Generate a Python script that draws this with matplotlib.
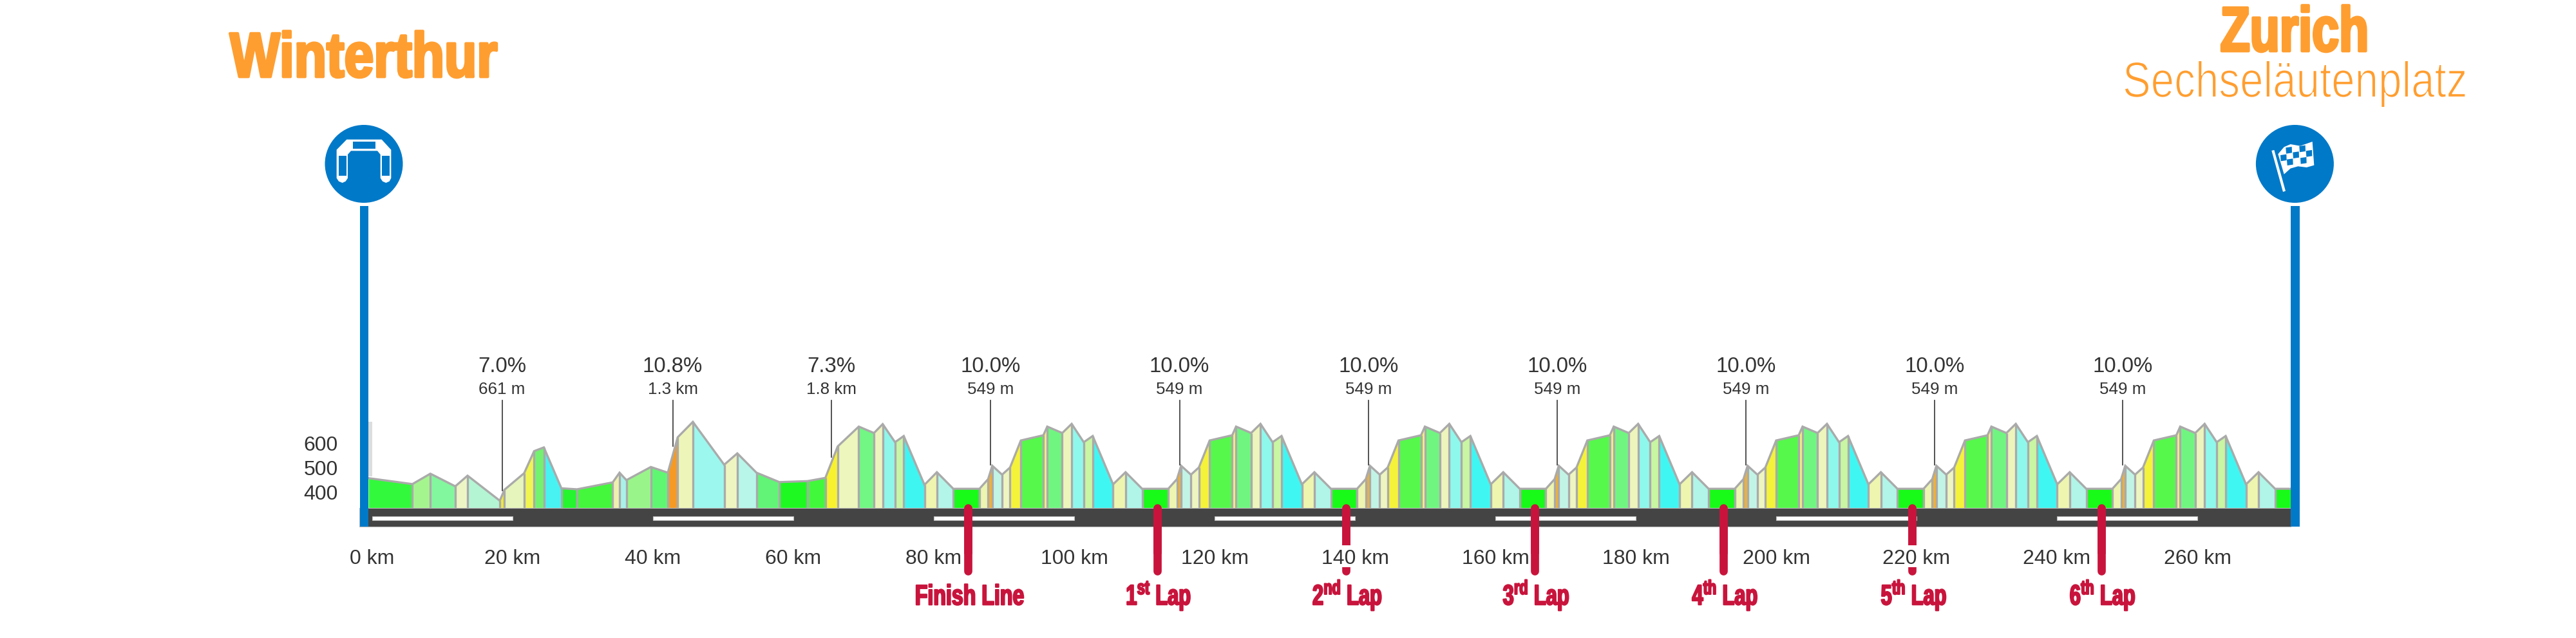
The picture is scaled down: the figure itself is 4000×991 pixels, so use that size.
import matplotlib

matplotlib.use("Agg")
import matplotlib.patheffects as pe
import matplotlib.pyplot as plt
from matplotlib.patches import Circle, Polygon, Rectangle
from matplotlib.transforms import Affine2D

plt.rcParams["mathtext.fontset"] = "custom"
plt.rcParams["mathtext.bf"] = "Liberation Sans:bold"
plt.rcParams["mathtext.rm"] = "Liberation Sans:bold"
plt.rcParams["mathtext.default"] = "bf"

# road before the circuit, km and metres
intro_km = [-0.55, 5.72, 8.28, 11.83, 13.58, 18.17, 18.83, 21.64, 23.06, 24.45, 26.95,
            29.17, 34.26, 35.23, 36.21, 39.69, 42.11, 43.52, 45.68, 50.14, 52.01, 54.74,
            58.0, 62.01, 64.55, 66.31, 69.31, 71.48, 72.72, 74.48, 75.72, 78.67, 80.44]
intro_m = [458, 434, 476, 425, 468, 367, 411, 478, 567, 582, 417,
           413, 441, 480, 450, 503, 480, 623, 685, 512, 558, 480,
           442, 446, 459, 586, 666, 640, 676, 603, 628, 431, 482]
intro_colors = ["#33f93c", "#a5f58f", "#83f79d", "#edf5c5", "#b4f5d4", "#f0ea3a", "#e6f5bb",
                "#f0f550", "#72f26e", "#48f2f2", "#25f52f", "#44f63c", "#eef0b0", "#a8f2ea",
                "#99f58a", "#5ff772", "#f59a25", "#eef5b8", "#9cf7ee", "#eff5c0", "#b8f6ea",
                "#62f476", "#1ff922", "#42f83a", "#f7f22d", "#ecf6bd", "#72f684", "#eef4bd",
                "#8ef7ea", "#c8f6a6", "#3ef5f2", "#eff5ae", "#b3f5e8"]

# one circuit, km relative to the finish line
lap_km = [-2.12, 1.60, 2.84, 3.43, 4.83, 5.96, 7.50, 10.71, 11.26, 13.40, 14.74, 16.46,
          17.74, 20.64, 22.42]
lap_m = [415, 415, 454, 508, 472, 501, 610, 631, 666, 640, 677, 603, 628, 433, 482]
lap_colors = ["#18fa18", "#edf5b0", "#f2b030", "#c2f4e6", "#eef5c0", "#f5f23a", "#56f84c",
              "#f5f080", "#70f680", "#eef5bc", "#8ef8ec", "#c8f6a2", "#40f6f2", "#eef5ae",
              "#b0f5e8"]

finish_km = [84.9, 111.8, 138.7, 165.6, 192.5, 219.4, 246.3]
finish_names = ["Finish Line", r"1$^{st}$ Lap", r"2$^{nd}$ Lap", r"3$^{rd}$ Lap",
                r"4$^{th}$ Lap", r"5$^{th}$ Lap", r"6$^{th}$ Lap"]

tail_km = [271.08, 273.3]
tail_m = [415, 415]
tail_color = "#18fa18"

climb_km = [18.5, 42.8, 65.4, 88.1, 115.0, 141.9, 168.8, 195.7, 222.6, 249.4]
climb_foot = [409, 587, 543, 512, 512, 512, 512, 512, 512, 512]
climb_pct = ["7.0%", "10.8%", "7.3%", "10.0%", "10.0%", "10.0%", "10.0%", "10.0%", "10.0%", "10.0%"]
climb_len = ["661 m", "1.3 km", "1.8 km", "549 m", "549 m", "549 m", "549 m", "549 m", "549 m", "549 m"]

km_ticks = list(range(0, 261, 20))
elev_ticks = [400, 500, 600]

BLUE = "#0079c8"
ORANGE = "#ff9e30"
RED = "#c8143c"
GREY = "#aaaaaa"
TEXT = "#333333"
SANS = ["Liberation Sans", "DejaVu Sans"]


class Squeeze(pe.AbstractPathEffect):
    """Narrow a text around a pixel column; no condensed font is installed."""

    def __init__(self, factor, anchor, edge=None, width=0):
        super().__init__()
        self.factor, self.anchor, self.edge, self.width = factor, anchor, edge, width

    def draw_path(self, renderer, gc, tpath, affine, rgbFace=None):
        narrow = Affine2D().translate(-self.anchor, 0).scale(self.factor, 1).translate(self.anchor, 0)
        gc0 = renderer.new_gc()
        gc0.copy_properties(gc)
        if self.edge:
            gc0.set_foreground(self.edge)
            gc0.set_linewidth(self.width)
        renderer.draw_path(gc0, tpath, affine + narrow, rgbFace)
        gc0.restore()


def km_at(px):
    return (px - 578) / 10.9


def m_at(py):
    return 400 + (765 - py) / 0.385


def pts(px):
    return px * 0.72


profile_km = list(intro_km)
profile_m = list(intro_m)
colors = list(intro_colors)
for start in finish_km:
    profile_km += [start + k for k in lap_km]
    profile_m += lap_m
    colors += lap_colors
profile_km += tail_km
profile_m += tail_m
colors.append(tail_color)

fig = plt.figure(figsize=(40, 9.91), dpi=100)
ax = fig.add_axes([572 / 4000, (991 - 789.3) / 991, (3557 - 572) / 4000, (789.3 - 622) / 991])
ax.set_xlim(km_at(572), km_at(3557))
ax.set_ylim(m_at(789.3), m_at(622))
ax.set_axisbelow(False)
for s in ax.spines.values():
    s.set_visible(False)
ax.patch.set_visible(False)

base = m_at(789.3)
for i, c in enumerate(colors):
    ax.fill_between(profile_km[i:i + 2], profile_m[i:i + 2], base, color=c, lw=0, zorder=1)
ax.vlines(profile_km[1:-1], base, profile_m[1:-1], color=GREY, lw=pts(3.3), zorder=1.5)
ax.plot(profile_km, profile_m, color=GREY, lw=pts(3.3), zorder=1.6, solid_joinstyle="miter",
        clip_on=False)

# stray grey block at the start of the profile
ax.add_patch(Rectangle((km_at(572), m_at(740)), km_at(578.4) - km_at(572), m_at(655) - m_at(740),
                       fc="#dddddd", ec="none", zorder=0.5, clip_on=False))

# road with its dashes
ax.add_patch(Rectangle((km_at(558), m_at(817.7)), km_at(3557) - km_at(558), base - m_at(817.7),
                       fc="#444444", ec="#bbbbbb", lw=0.8, zorder=2, clip_on=False))
for start in km_ticks[::2]:
    ax.add_patch(Rectangle((start, m_at(808)), 20, m_at(801.7) - m_at(808), fc="white",
                           ec="#bbbbbb", lw=0.8, zorder=2.1, clip_on=False))

for k, foot, pct, length in zip(climb_km, climb_foot, climb_pct, climb_len):
    ax.plot([k, k], [foot, m_at(622)], color="#444444", lw=pts(1.8), zorder=1.7, clip_on=False)
    ax.text(k, m_at(578.3), pct, ha="center", va="baseline", fontsize=pts(33), color=TEXT,
            family=SANS, clip_on=False)
    ax.text(k, m_at(611.7), length, ha="center", va="baseline", fontsize=pts(26), color=TEXT,
            family=SANS, clip_on=False)

for k, name in zip(finish_km, finish_names):
    ax.plot([k, k], [base, m_at(886.5)], color=RED, lw=pts(12.7), zorder=2.2, clip_on=False,
            solid_capstyle="round")
    ax.plot([k, k], [base, m_at(860)], color=RED, lw=pts(12.7), zorder=2.2, clip_on=False,
            solid_capstyle="butt")
    centre = k + 0.2
    narrow = 0.73 if name == "Finish Line" else 0.7
    ax.text(centre, m_at(939.3), name, ha="center", va="baseline", fontsize=pts(44), color=RED,
            family=SANS, weight="bold", clip_on=False,
            path_effects=[Squeeze(narrow, 578 + centre * 10.9, RED, 1.6)])

ax.set_xticks(km_ticks, [f"{k} km" for k in km_ticks], fontsize=pts(32), color=TEXT, family=SANS)
ax.set_yticks(elev_ticks, [str(v) for v in elev_ticks], fontsize=pts(32), color=TEXT, family=SANS)
ax.tick_params(axis="x", length=0, pad=46)
ax.tick_params(axis="y", length=0, pad=34)
# these two tick labels sit across a marker and blank it out
for k in (140, 220):
    ax.add_patch(Rectangle((k - 5, m_at(881)), 10, m_at(846.7) - m_at(881), fc="white", ec="none",
                           zorder=2.3, clip_on=False))

# header and icons, in picture pixels
top = fig.add_axes([0, 0, 1, 1])
top.set_xlim(0, 4000)
top.set_ylim(991, 0)
top.axis("off")

top.text(357, 119.3, "Winterthur", ha="left", va="baseline", fontsize=pts(98), color=ORANGE,
         family=SANS, weight="bold", path_effects=[Squeeze(0.84, 357, ORANGE, 3)])
top.text(3563, 79.3, "Zurich", ha="center", va="baseline", fontsize=pts(98), color=ORANGE,
         family=SANS, weight="bold", path_effects=[Squeeze(0.77, 3563, ORANGE, 3)])
top.text(3564, 150.7, "Sechseläutenplatz", ha="center", va="baseline", fontsize=pts(78),
         color=ORANGE, family=SANS,
         path_effects=[Squeeze(0.84, 3564), Squeeze(0.84, 3564, "white", 1.2)])

for x0, x1, cx in [(559, 572, 565), (3557, 3571, 3563.4)]:
    top.add_patch(Rectangle((x0, 320), x1 - x0, 817.7 - 320, fc=BLUE, ec="none"))
    top.add_patch(Circle((cx, 254.5), 60.5, fc=BLUE, ec="none"))


def icon(x0, y0, points, color):
    top.add_patch(Polygon([(x0 + a / 3, y0 + b / 3) for a, b in points], closed=True, fc=color,
                          ec="none"))


arch = [(38, 98), (85, 50), (248, 50), (292, 98), (292, 230), (284, 245), (268, 252), (252, 245),
        (242, 230), (242, 120), (228, 103), (105, 103), (90, 120), (90, 230), (80, 245), (65, 252),
        (48, 245), (38, 230)]
icon(510, 200, arch, "white")
for a, b, c, d in [(114, 60, 220, 94), (48, 126, 84, 220), (250, 126, 284, 218)]:
    icon(510, 200, [(a, b), (c, b), (c, d), (a, d)], BLUE)

icon(3510, 200, [(52, 102), (64, 99), (117, 290), (105, 294)], "white")
flag = [(82, 118), (110, 85), (140, 72), (185, 80), (242, 60), (250, 170), (215, 180), (175, 175),
        (140, 185), (110, 212)]
icon(3510, 200, flag, "white")
for a, b in [(132, 100), (195, 93), (165, 122), (226, 115), (107, 135), (137, 155), (200, 148)]:
    icon(3510, 200, [(a - 14, b - 12), (a + 14, b - 16), (a + 15, b + 12), (a - 12, b + 16)], BLUE)

fig.savefig("out.png", dpi=100, facecolor="white")
